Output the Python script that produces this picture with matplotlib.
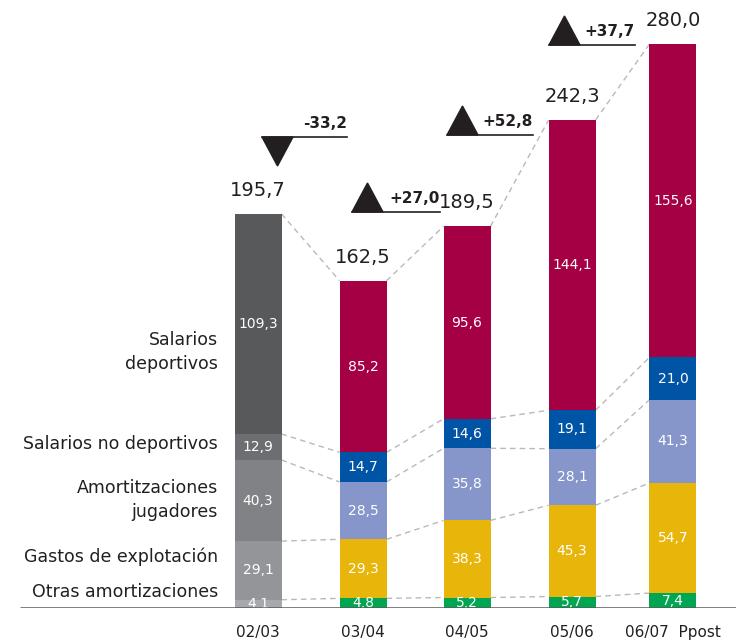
import matplotlib.pyplot as plt
import numpy as np

# data
seasons = ['02/03', '03/04', '04/05', '05/06', '06/07  Ppost']
otras = [4.1, 4.8, 5.2, 5.7, 7.4]
gastos = [29.1, 29.3, 38.3, 45.3, 54.7]
amort = [40.3, 28.5, 35.8, 28.1, 41.3]
no_dep = [12.9, 14.7, 14.6, 19.1, 21.0]
deport = [109.3, 85.2, 95.6, 144.1, 155.6]
totals = [195.7, 162.5, 189.5, 242.3, 280.0]
changes = ['-33,2', '+27,0', '+52,8', '+37,7']

series_names = ['Otras amortizaciones', 'Gastos de explotación',
                'Amortitzaciones\njugadores', 'Salarios no deportivos',
                'Salarios\ndeportivos']
series = [otras, gastos, amort, no_dep, deport]
colors = ['#00A651', '#E8B50A', '#8796CA', '#0054A6', '#A50044']
grays = ['#A7A9AC', '#939598', '#808285', '#6D6E71', '#58595B']

txt = '#231F20'
plt.rcParams['font.family'] = ['DejaVu Sans']

fig = plt.figure(figsize=(7.36, 6.43), dpi=100)
# axes: baseline at 608 px from top, bar centres 258..673 px
px_unit = 104.0
ax = fig.add_axes([0, 35 / 643, 1, 608 / 643])
ax.set_xlim((0 - 258) / px_unit, (736 - 258) / px_unit)
ax.set_ylim(0, 608 / 2.014)
ax.axis('off')

x = np.array([0, 1.01, 2.01, 3.02, 3.99])
w = 47 / px_unit

bottoms = np.zeros(len(seasons))
tops_all = []
for k, vals in enumerate(series):
    vals = np.array(vals)
    cols = [grays[k]] + [colors[k]] * (len(seasons) - 1)
    ax.bar(x, vals, width=w, bottom=bottoms, color=cols, zorder=3)
    for i, v in enumerate(vals):
        ax.text(x[i], bottoms[i] + v / 2, f'{v:.1f}'.replace('.', ','),
                ha='center', va='center', color='white', fontsize=10, zorder=4)
    bottoms = bottoms + vals
    tops_all.append(bottoms.copy())

# dashed connectors between segment tops
for tops in tops_all:
    for i in range(len(seasons) - 1):
        ax.plot([x[i] + w / 2, x[i + 1] - w / 2], [tops[i], tops[i + 1]],
                ls=(0, (4, 3)), color='#B8B9BB', lw=1, zorder=1)

# totals
for i, t in enumerate(totals):
    ax.text(x[i], t + 7, f'{t:.1f}'.replace('.', ','), ha='center',
            va='bottom', fontsize=14, color=txt)

# series labels on the left (y positions in px from top)
label_px = [592, 557, 500, 444, 352]
for name, lp in zip(series_names, label_px):
    ax.text((218 - 258) / px_unit, (608 - lp) / 2.014, name, ha='right',
            va='center', fontsize=12.5, color=txt, linespacing=1.4)

# baseline
ax.plot([(20 - 258) / px_unit, (736 - 258) / px_unit], [0, 0],
        color='#58595B', lw=1.8, zorder=5, solid_capstyle='butt')

# category labels
for i, s in enumerate(seasons):
    ax.text(x[i], -25 / 2.014, s, ha='center', va='center', fontsize=11,
            color=txt)

# change markers: (left px, right px, line y px, up?)
marks = [(262, 347, 137, False), (352, 440, 212, True),
         (447, 533, 135, True), (549, 635, 45, True)]
for (lpx, rpx, ypx, up), lab in zip(marks, changes):
    x0 = (lpx - 258) / px_unit
    x1 = (rpx - 258) / px_unit
    yb = (608 - ypx) / 2.014
    tw = 31 / px_unit
    th = 29 / 2.014
    if up:
        tri = [[x0, yb], [x0 + tw, yb], [x0 + tw / 2, yb + th]]
    else:
        tri = [[x0, yb], [x0 + tw, yb], [x0 + tw / 2, yb - th]]
    ax.add_patch(plt.Polygon(tri, closed=True, color=txt, zorder=4))
    ax.plot([x0, x1], [yb, yb], color=txt, lw=1.2, zorder=4)
    ax.text(x1, yb + 3, lab, ha='right', va='bottom', fontsize=11,
            fontweight='bold', color=txt)

fig.savefig('out.png', dpi=100)
